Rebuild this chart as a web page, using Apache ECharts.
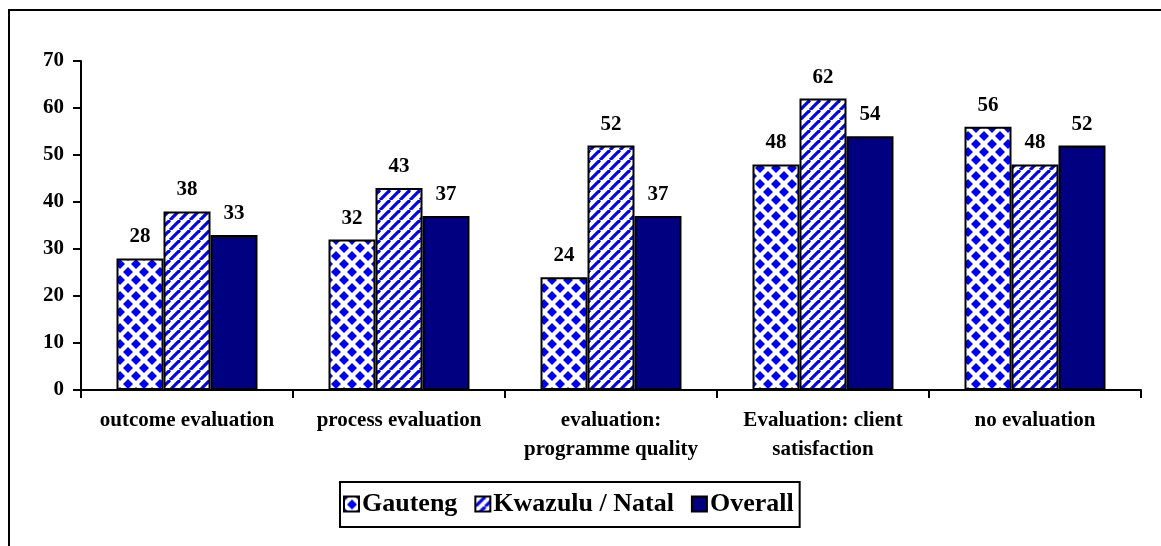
<!DOCTYPE html>
<html>
<head>
<meta charset="utf-8">
<style>
  html, body { margin: 0; padding: 0; background: #ffffff; }
  #chart { width: 1161px; height: 546px; }
</style>
<script src="https://cdn.jsdelivr.net/npm/echarts@6/dist/echarts.min.js"></script>
</head>
<body>
<div id="chart"></div>
<script>
// Types of evaluation carried out, by province (%)
const categories = [
  'outcome evaluation',
  'process evaluation',
  'evaluation:\nprogramme quality',
  'Evaluation: client\nsatisfaction',
  'no evaluation'
];
const seriesNames = ['Gauteng', 'Kwazulu / Natal', 'Overall'];
const gauteng = [28, 32, 24, 48, 56];
const kwazuluNatal = [38, 43, 52, 62, 48];
const overall = [33, 37, 37, 54, 52];
const yTicks = { min: 0, max: 70, interval: 10 };

const FONT = '"Liberation Serif", "Times New Roman", serif';

// Fill patterns: blue diamonds on white, and blue "/" stripes on white
function diamondTile() {
  const s = 16, r = 5;
  const c = document.createElement('canvas');
  c.width = s; c.height = s;
  const g = c.getContext('2d');
  g.fillStyle = '#ffffff';
  g.fillRect(0, 0, s, s);
  g.fillStyle = '#0000ff';
  const centers = [[0, 0], [s, 0], [0, s], [s, s], [s / 2, s / 2]];
  centers.forEach(([cx, cy]) => {
    g.beginPath();
    g.moveTo(cx, cy - r);
    g.lineTo(cx + r, cy);
    g.lineTo(cx, cy + r);
    g.lineTo(cx - r, cy);
    g.closePath();
    g.fill();
  });
  return c;
}
function stripeTile() {
  const s = 10;
  const c = document.createElement('canvas');
  c.width = s; c.height = s;
  const g = c.getContext('2d');
  g.fillStyle = '#ffffff';
  g.fillRect(0, 0, s, s);
  g.strokeStyle = '#0000ff';
  g.lineWidth = 3.2;
  [-s, 0, s].forEach(o => {
    g.beginPath();
    g.moveTo(o, s);
    g.lineTo(o + s, 0);
    g.stroke();
  });
  return c;
}

const fills = [
  { image: diamondTile(), repeat: 'repeat' },
  { image: stripeTile(), repeat: 'repeat' },
  '#000080'
];
const values = [gauteng, kwazuluNatal, overall];

const chart = echarts.init(document.getElementById('chart'), null, { renderer: 'canvas' });

chart.setOption({
  animation: false,
  backgroundColor: '#ffffff',
  textStyle: { fontFamily: FONT },
  graphic: [{
    type: 'rect',
    shape: { x: 9, y: 10, width: 1200, height: 600 },
    style: { fill: 'none', stroke: '#000000', lineWidth: 2 },
    silent: true
  }],
  grid: { left: 81, right: 20, top: 61, bottom: 156 },
  legend: {
    data: seriesNames,
    left: 340,
    top: 482,
    padding: [9, 6, 10, 3],
    itemGap: 17,
    itemWidth: 15,
    itemHeight: 15,
    icon: 'rect',
    borderColor: '#000000',
    borderWidth: 2,
    itemStyle: { borderColor: '#000000', borderWidth: 2 },
    textStyle: { fontFamily: FONT, fontWeight: 'bold', fontSize: 26, color: '#000000', padding: [0, 0, 0, -2] }
  },
  xAxis: {
    type: 'category',
    data: categories,
    axisLine: { lineStyle: { color: '#000000', width: 2 } },
    axisTick: { show: true, length: 8, inside: false, alignWithLabel: false, lineStyle: { color: '#000000', width: 2 } },
    axisLabel: {
      interval: 0,
      margin: 16,
      fontFamily: FONT,
      fontWeight: 'bold',
      fontSize: 21,
      lineHeight: 29,
      color: '#000000'
    },
    splitLine: { show: false }
  },
  yAxis: {
    type: 'value',
    min: yTicks.min,
    max: yTicks.max,
    interval: yTicks.interval,
    axisLine: { show: true, lineStyle: { color: '#000000', width: 2 } },
    axisTick: { show: true, length: 8, inside: false, lineStyle: { color: '#000000', width: 2 } },
    axisLabel: { margin: 17, fontFamily: FONT, fontWeight: 'bold', fontSize: 21, color: '#000000' },
    splitLine: { show: false }
  },
  series: seriesNames.map((name, i) => ({
    name: name,
    type: 'bar',
    data: values[i],
    barGap: '0%',
    barCategoryGap: '33.5%',
    itemStyle: { color: fills[i], borderColor: '#000000', borderWidth: 2 },
    label: {
      show: true,
      position: 'top',
      distance: 11,
      fontFamily: FONT,
      fontWeight: 'bold',
      fontSize: 21,
      color: '#000000'
    }
  }))
});
</script>
</body>
</html>
